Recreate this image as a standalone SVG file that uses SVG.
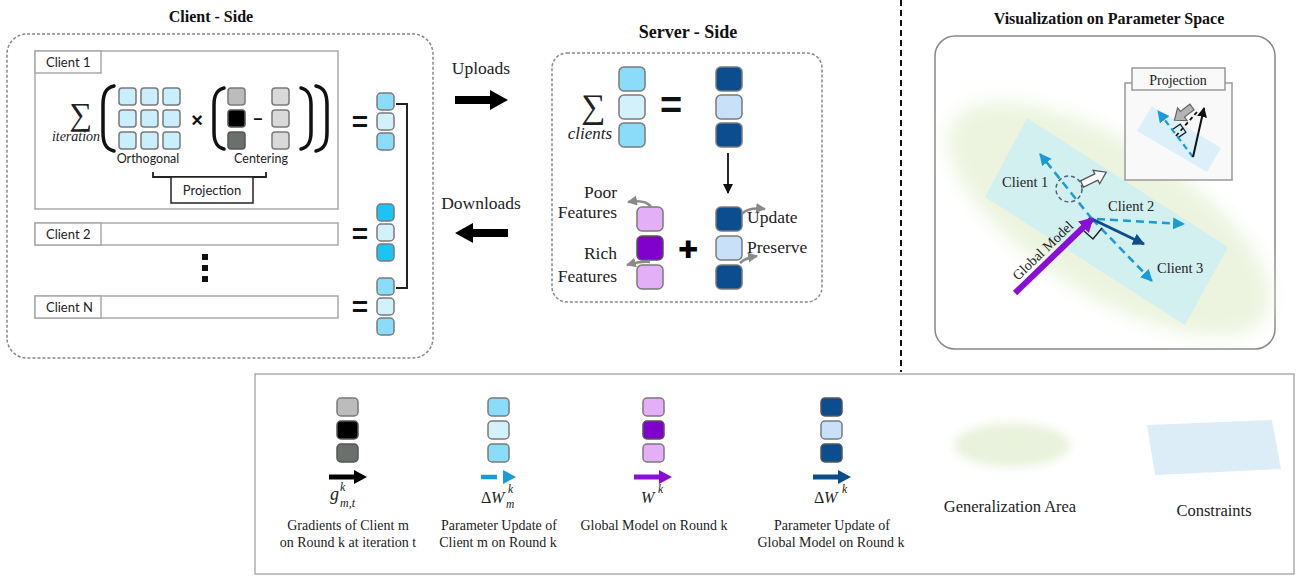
<svg xmlns="http://www.w3.org/2000/svg" width="1297" height="577" viewBox="0 0 1297 577">
<defs>
<style>
.serif{font-family:"Liberation Serif","Noto Serif","DejaVu Serif",Times,serif;fill:#222}
.sans{font-family:Lato,"Open Sans",sans-serif;fill:#222}
.it{font-family:"Liberation Serif","Noto Serif","DejaVu Serif",Times,serif;font-style:italic;fill:#222}
.title{font-family:"Liberation Serif","Noto Serif","DejaVu Serif",Times,serif;font-weight:bold;fill:#111}
.op{font-family:"Liberation Sans",Arial,sans-serif;font-weight:bold;fill:#111}
.cell{stroke:#7a7a7a;stroke-width:1.5}
.dk{stroke:#555}
.dashbox{fill:none;stroke:#888;stroke-width:1.5;stroke-dasharray:3 2}
.cbox{fill:#fff;stroke:#aaa;stroke-width:1.5}
.paren{fill:none;stroke:#111;stroke-width:3.5;stroke-linecap:round}
.cA{fill:#8adcf8}
.cB{fill:#d2f1fb}
.cV{fill:#1ec3f6}
.cG{fill:#c9eefc}
.g1{fill:#bcbcbc}
.g2{fill:#000}
.g3{fill:#6b706d}
.g4{fill:#d9d9d9}
.nv{fill:#0b4d8e}
.nl{fill:#c8e0f8}
.pl{fill:#e3b0f8}
.pd{fill:#8000cc}
.curve{fill:none;stroke:#8a8a8a;stroke-width:2.5}
.cyan{fill:none;stroke:#1a9ad6;stroke-width:2.5;stroke-dasharray:8 5}
</style>
<filter id="soft" x="-30%" y="-30%" width="160%" height="160%"><feGaussianBlur stdDeviation="9"/></filter>
<filter id="softS" x="-30%" y="-50%" width="160%" height="200%"><feGaussianBlur stdDeviation="5"/></filter>
<marker id="mGray" markerUnits="userSpaceOnUse" markerWidth="12" markerHeight="12" refX="9" refY="5" orient="auto"><path d="M0,0 L10,5 L0,10 Z" fill="#8a8a8a"/></marker>
<marker id="mBlack" markerUnits="userSpaceOnUse" markerWidth="12" markerHeight="12" refX="9" refY="5" orient="auto"><path d="M0,0 L10,5 L0,10 Z" fill="#111"/></marker>
<marker id="mCyan" markerUnits="userSpaceOnUse" markerWidth="14" markerHeight="14" refX="11" refY="6" orient="auto"><path d="M0,0 L12,6 L0,12 Z" fill="#1a9ad6"/></marker>
<marker id="mPurple" markerUnits="userSpaceOnUse" markerWidth="18" markerHeight="18" refX="12" refY="8" orient="auto"><path d="M0,0 L14,8 L0,16 Z" fill="#8a0fd6"/></marker>
<marker id="mNavy" markerUnits="userSpaceOnUse" markerWidth="14" markerHeight="14" refX="11" refY="6" orient="auto"><path d="M0,0 L12,6 L0,12 Z" fill="#0b4d8e"/></marker>
</defs>

<rect width="1297" height="577" fill="#fff"/>

<!-- ===== Client side ===== -->
<g id="client-side">
  <text class="title" x="211" y="22" font-size="16" text-anchor="middle">Client - Side</text>
  <rect class="dashbox" x="7" y="34" width="426" height="324" rx="20"/>
</g>

<g id="client-1">
  <rect class="cbox" x="35" y="51" width="303" height="158"/>
  <rect class="cbox" x="35" y="51" width="66" height="22"/>
  <text class="sans" x="46" y="67" font-size="13">Client 1</text>
  <text class="serif" x="81" y="125" font-size="32" text-anchor="middle">∑</text>
  <text class="it" x="76" y="141" font-size="14" text-anchor="middle">iteration</text>
  <!-- orthogonal matrix -->
  <path class="paren" d="M114,86 C105,88 103,95 103,105 L103,132 C103,142 105,149 114,151"/>
  <g class="cell cG">
    <rect x="119" y="88" width="17" height="17" rx="3"/><rect x="141" y="88" width="17" height="17" rx="3"/><rect x="163" y="88" width="17" height="17" rx="3"/>
    <rect x="119" y="110" width="17" height="17" rx="3"/><rect x="141" y="110" width="17" height="17" rx="3"/><rect x="163" y="110" width="17" height="17" rx="3"/>
    <rect x="119" y="132" width="17" height="17" rx="3"/><rect x="141" y="132" width="17" height="17" rx="3"/><rect x="163" y="132" width="17" height="17" rx="3"/>
  </g>
  <text class="op" x="197" y="127" font-size="20" text-anchor="middle">×</text>
  <path class="paren" d="M224,88 C216,90 214,96 214,105 L214,132 C214,141 216,147 224,149"/>
  <rect class="cell g1" x="228" y="88" width="17" height="17" rx="3"/>
  <rect class="cell g2 dk" x="228" y="110" width="17" height="17" rx="3"/>
  <rect class="cell g3 dk" x="228" y="132" width="17" height="17" rx="3"/>
  <text class="op" x="258" y="124" font-size="16" text-anchor="middle">–</text>
  <rect class="cell g4" x="272" y="88" width="17" height="17" rx="3"/>
  <rect class="cell g4" x="272" y="110" width="17" height="17" rx="3"/>
  <rect class="cell g4" x="272" y="132" width="17" height="17" rx="3"/>
  <path class="paren" d="M301,88 C309,90 311,96 311,105 L311,132 C311,141 309,147 301,149"/>
  <path class="paren" d="M316,86 C325,88 327,95 327,105 L327,132 C327,142 325,149 316,151"/>
  <text class="sans" x="148" y="163" font-size="12.5" text-anchor="middle">Orthogonal</text>
  <text class="sans" x="261" y="163" font-size="12.5" text-anchor="middle">Centering</text>
  <path d="M153,172 L153,177 L266,177 L266,172" fill="none" stroke="#222" stroke-width="1.8"/>
  <rect x="171" y="177" width="82" height="26" fill="#fff" stroke="#222" stroke-width="1.5"/>
  <text class="sans" x="212" y="195" font-size="13" text-anchor="middle">Projection</text>
</g>

<g id="client-2">
  <rect class="cbox" x="35" y="223" width="303" height="22"/>
  <rect class="cbox" x="35" y="223" width="66" height="22"/>
  <text class="sans" x="46" y="239" font-size="13">Client 2</text>
</g>

<g id="client-dots" fill="#111">
  <rect x="202" y="254" width="6" height="6"/>
  <rect x="202" y="265" width="6" height="6"/>
  <rect x="202" y="276" width="6" height="6"/>
</g>

<g id="client-n">
  <rect class="cbox" x="35" y="296" width="303" height="22"/>
  <rect class="cbox" x="35" y="296" width="66" height="22"/>
  <text class="sans" x="46" y="312" font-size="13">Client N</text>
</g>

<g id="client-updates">
  <text class="op" x="360" y="131" font-size="28" text-anchor="middle">=</text>
  <rect class="cell cA" x="377" y="93" width="17" height="17" rx="4"/>
  <rect class="cell cB" x="377" y="113" width="17" height="17" rx="4"/>
  <rect class="cell cA" x="377" y="133" width="17" height="17" rx="4"/>
  <text class="op" x="360" y="243" font-size="28" text-anchor="middle">=</text>
  <rect class="cell cV" x="377" y="204" width="17" height="17" rx="4"/>
  <rect class="cell cB" x="377" y="224" width="17" height="17" rx="4"/>
  <rect class="cell cV" x="377" y="244" width="17" height="17" rx="4"/>
  <text class="op" x="360" y="316" font-size="28" text-anchor="middle">=</text>
  <rect class="cell cA" x="377" y="278" width="17" height="17" rx="4"/>
  <rect class="cell cB" x="377" y="298" width="17" height="17" rx="4"/>
  <rect class="cell cA" x="377" y="318" width="17" height="17" rx="4"/>
</g>

<!-- ===== Transfers ===== -->
<g id="transfers">
  <text class="serif" x="481" y="74" font-size="17.5" text-anchor="middle">Uploads</text>
  <polygon points="455,96 490,96 490,90 508,100 490,110 490,104 455,104" fill="#000"/>
  <text class="serif" x="481" y="209" font-size="17.5" text-anchor="middle">Downloads</text>
  <polygon points="508,229 473,229 473,223 455,233 473,243 473,237 508,237" fill="#000"/>
</g>

<!-- ===== Server side ===== -->
<g id="server-side">
  <text class="title" x="688" y="38" font-size="18" text-anchor="middle">Server - Side</text>
  <rect class="dashbox" x="552" y="53" width="270" height="249" rx="15"/>
</g>

<g id="server-aggregate">
  <text class="serif" x="593" y="118" font-size="34" text-anchor="middle">∑</text>
  <text class="it" x="590" y="139" font-size="17" text-anchor="middle">clients</text>
  <rect class="cell cA" x="619" y="67" width="26" height="24" rx="5"/>
  <rect class="cell cB" x="619" y="95" width="26" height="24" rx="5"/>
  <rect class="cell cA" x="619" y="123" width="26" height="24" rx="5"/>
  <text class="op" x="671" y="118" font-size="38" text-anchor="middle">=</text>
  <rect class="cell nv" x="716" y="67" width="26" height="24" rx="5"/>
  <rect class="cell nl" x="716" y="95" width="26" height="24" rx="5"/>
  <rect class="cell nv" x="716" y="123" width="26" height="24" rx="5"/>
</g>

<g id="server-update">
  <text class="serif" x="617" y="198" font-size="17.5" text-anchor="end">Poor</text>
  <text class="serif" x="617" y="218" font-size="17.5" text-anchor="end">Features</text>
  <text class="serif" x="617" y="259" font-size="17.5" text-anchor="end">Rich</text>
  <text class="serif" x="617" y="282" font-size="17.5" text-anchor="end">Features</text>
  <rect class="cell pl" x="637" y="207" width="26" height="24" rx="5"/>
  <rect class="cell pd dk" x="637" y="236" width="26" height="24" rx="5"/>
  <rect class="cell pl" x="637" y="265" width="26" height="24" rx="5"/>
  <text x="688" y="258" font-family="'DejaVu Sans',sans-serif" font-size="24" text-anchor="middle" fill="#000">✚</text>
  <rect class="cell nv" x="716" y="207" width="26" height="24" rx="5"/>
  <rect class="cell nl" x="716" y="236" width="26" height="24" rx="5"/>
  <rect class="cell nv" x="716" y="265" width="26" height="24" rx="5"/>
  <text class="serif" x="747" y="223" font-size="17.5">Update</text>
  <text class="serif" x="747" y="253" font-size="17.5">Preserve</text>
</g>

<!-- ===== Divider ===== -->
<line x1="901" y1="0" x2="901" y2="372" stroke="#111" stroke-width="2" stroke-dasharray="6 4"/>

<!-- ===== Parameter space ===== -->
<g id="param-space">
  <text class="title" x="1109" y="24" font-size="16" text-anchor="middle">Visualization on Parameter Space</text>
  <rect x="935" y="36" width="340" height="313" rx="20" fill="#fff" stroke="#888" stroke-width="1.5"/>
  <ellipse cx="1109" cy="219" rx="184" ry="76" transform="rotate(32 1109 219)" fill="#ecf4df" filter="url(#soft)"/>
  <polygon points="1027,118 1228,247 1185,325 985,197" fill="#cfeef3" fill-opacity="0.85"/>
</g>

<g id="projection-inset">
  <rect x="1125" y="83" width="107" height="97" fill="#f9f9f9" stroke="#999" stroke-width="1.5"/>
  <rect x="1132" y="68" width="93" height="22" fill="#f9f9f9" stroke="#999" stroke-width="1.5"/>
  <text class="serif" x="1178" y="85" font-size="14" text-anchor="middle">Projection</text>
  <polygon points="1152,106 1221,148 1207,172 1137,131" fill="#dcf0fa"/>
  <line x1="1176" y1="136" x2="1197" y2="112" stroke="#111" stroke-width="1.8" stroke-dasharray="4 3"/>
  <polyline points="1172,131 1179,124 1186,131 1179,138" fill="none" stroke="#222" stroke-width="1.3" transform="rotate(10 1179 131)"/>
  <line x1="1193" y1="157" x2="1158" y2="111" stroke="#1a9ad6" stroke-width="2.2" stroke-dasharray="6 4" marker-end="url(#mCyan)"/>
  <line x1="1193" y1="157" x2="1204" y2="108" stroke="#111" stroke-width="2" marker-end="url(#mBlack)"/>
  <polygon points="0,-3.5 12,-3.5 12,-8 22,0 12,8 12,3.5 0,3.5" fill="#b4b4b4" stroke="#666" stroke-width="1.2" transform="translate(1192,107) rotate(143)"/>
</g>

<g id="client-vectors">
  <text class="serif" x="1002" y="187" font-size="14.5">Client 1</text>
  <text class="serif" x="1108" y="211" font-size="14.5">Client 2</text>
  <text class="serif" x="1157" y="273" font-size="14.5">Client 3</text>
  <circle cx="1069" cy="189" r="13" fill="none" stroke="#4a6380" stroke-width="1.5" stroke-dasharray="4 3"/>
  <polygon points="0,-3.5 16,-3.5 16,-7.5 27,0 16,7.5 16,3.5 0,3.5" fill="#fff" stroke="#555" stroke-width="1.3" transform="translate(1082,184) rotate(-26)"/>
</g>

<!-- ===== Connectors ===== -->
<g id="connectors">
  <path d="M396,104 L407,104 L407,288 L396,288" fill="none" stroke="#222" stroke-width="2"/>
  <line x1="728" y1="153" x2="728" y2="193" stroke="#111" stroke-width="1.8" marker-end="url(#mBlack)"/>
  <path class="curve" d="M651,207 Q646,199 628,202" marker-end="url(#mGray)"/>
  <path class="curve" d="M650,262 Q641,261 627,265" marker-end="url(#mGray)"/>
  <path class="curve" d="M742,214 Q748,207 765,209" marker-end="url(#mGray)"/>
  <path class="curve" d="M740,263 Q745,258 757,256" marker-end="url(#mGray)"/>
  <!-- parameter-space vectors -->
  <line class="cyan" x1="1092" y1="219" x2="1040" y2="154" marker-end="url(#mCyan)"/>
  <line class="cyan" x1="1092" y1="219" x2="1152" y2="281" marker-end="url(#mCyan)"/>
  <line class="cyan" x1="1097" y1="219" x2="1184" y2="224" marker-end="url(#mCyan)"/>
  <polyline points="1084,231 1093,239 1102,228" fill="none" stroke="#222" stroke-width="1.5"/>
  <line x1="1092" y1="219" x2="1144" y2="244" stroke="#0b4d8e" stroke-width="3" marker-end="url(#mNavy)"/>
  <line x1="1015" y1="293" x2="1092" y2="219" stroke="#8a0fd6" stroke-width="6" marker-end="url(#mPurple)"/>
  <text class="serif" x="1018" y="281" font-size="14" transform="rotate(-44 1018 281)">Global Model</text>
</g>

<!-- ===== Legend ===== -->
<g id="legend">
  <rect x="255" y="374" width="1039" height="200" fill="#fff" stroke="#999" stroke-width="1.2"/>
</g>

<g id="legend-gradient">
  <rect class="cell g1" x="337" y="398" width="21" height="18" rx="4"/>
  <rect class="cell g2 dk" x="337" y="421" width="21" height="18" rx="4"/>
  <rect class="cell g3 dk" x="337" y="444" width="21" height="18" rx="4"/>
  <line x1="329" y1="477" x2="356" y2="477" stroke="#000" stroke-width="5"/>
  <polygon points="354,470 367,477 354,484" fill="#000"/>
  <text class="it" x="330" y="500" font-size="18">g</text>
  <text class="it" x="340" y="491" font-size="12">k</text>
  <text class="it" x="340" y="507" font-size="12">m,t</text>
  <text class="serif" x="348" y="530" font-size="14" text-anchor="middle">Gradients of Client m</text>
  <text class="serif" x="348" y="547" font-size="14" text-anchor="middle">on Round k at iteration t</text>
</g>

<g id="legend-client-update">
  <rect class="cell cA" x="488" y="398" width="21" height="18" rx="4"/>
  <rect class="cell cB" x="488" y="421" width="21" height="18" rx="4"/>
  <rect class="cell cA" x="488" y="444" width="21" height="18" rx="4"/>
  <line x1="481" y1="477" x2="497" y2="477" stroke="#1a9ad6" stroke-width="4.5"/>
  <polygon points="503,470 516,477 503,484" fill="#1a9ad6"/>
  <text class="serif" x="481" y="503" font-size="16">Δ</text>
  <text class="it" x="491" y="503" font-size="16">W</text>
  <text class="it" x="508" y="493" font-size="11.5">k</text>
  <text class="it" x="506" y="508" font-size="11.5">m</text>
  <text class="serif" x="499" y="530" font-size="14" text-anchor="middle">Parameter Update of</text>
  <text class="serif" x="498" y="547" font-size="14" text-anchor="middle">Client m on Round k</text>
</g>

<g id="legend-global-model">
  <rect class="cell pl" x="643" y="398" width="21" height="18" rx="4"/>
  <rect class="cell pd dk" x="643" y="421" width="21" height="18" rx="4"/>
  <rect class="cell pl" x="643" y="444" width="21" height="18" rx="4"/>
  <line x1="634" y1="477" x2="661" y2="477" stroke="#8a0fd6" stroke-width="5"/>
  <polygon points="659,470 672,477 659,484" fill="#8a0fd6"/>
  <text class="it" x="641" y="503" font-size="16">W</text>
  <text class="it" x="658" y="493" font-size="11.5">k</text>
  <text class="serif" x="654" y="530" font-size="14" text-anchor="middle">Global Model on Round k</text>
</g>

<g id="legend-global-update">
  <rect class="cell nv dk" x="821" y="398" width="21" height="18" rx="4"/>
  <rect class="cell nl" x="821" y="421" width="21" height="18" rx="4"/>
  <rect class="cell nv dk" x="821" y="444" width="21" height="18" rx="4"/>
  <line x1="813" y1="477" x2="840" y2="477" stroke="#0b4d8e" stroke-width="5"/>
  <polygon points="838,470 851,477 838,484" fill="#0b4d8e"/>
  <text class="serif" x="814" y="503" font-size="16">Δ</text>
  <text class="it" x="824" y="503" font-size="16">W</text>
  <text class="it" x="842" y="493" font-size="11.5">k</text>
  <text class="serif" x="832" y="530" font-size="14" text-anchor="middle">Parameter Update of</text>
  <text class="serif" x="831" y="547" font-size="14" text-anchor="middle">Global Model on Round k</text>
</g>

<g id="legend-area">
  <ellipse cx="1012" cy="445" rx="58" ry="22" fill="#e9f2dc" filter="url(#softS)"/>
  <text class="serif" x="1010" y="512" font-size="16.5" text-anchor="middle">Generalization Area</text>
</g>

<g id="legend-constraints">
  <polygon points="1147,425 1272,420 1281,469 1155,475" fill="#dcedf8"/>
  <text class="serif" x="1214" y="516" font-size="16.5" text-anchor="middle">Constraints</text>
</g>
</svg>
